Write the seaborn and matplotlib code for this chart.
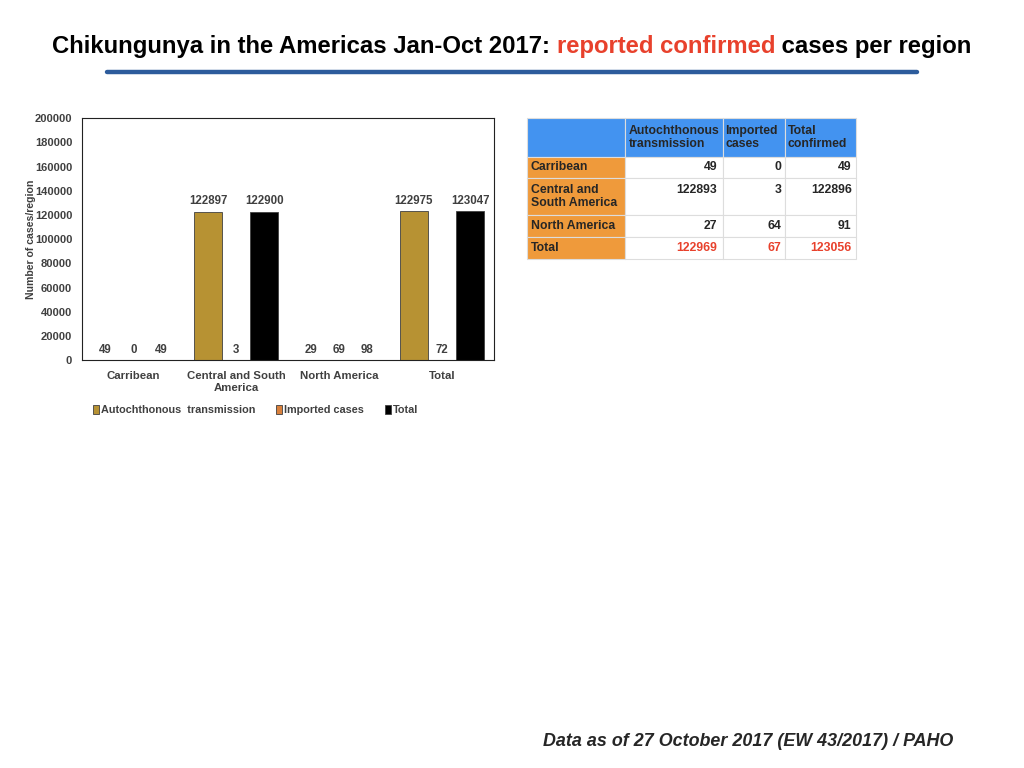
import matplotlib
matplotlib.use("Agg")
import matplotlib.pyplot as plt
import seaborn as sns
import pandas as pd
from matplotlib.lines import Line2D
from matplotlib.patches import Patch

# chart data
regions = ["Carribean", "Central and South\nAmerica", "North America", "Total"]
series = ["Autochthonous  transmission", "Imported cases", "Total"]
autochthonous = [49, 122897, 29, 122975]
imported = [0, 3, 69, 72]
total = [49, 122900, 98, 123047]
bar_colors = ["#B79233", "#D9803C", "#000000"]

# table data
table_rows = ["Carribean", "Central and\nSouth America", "North America", "Total"]
table_cols = ["Autochthonous\ntransmission", "Imported\ncases", "Total\nconfirmed"]
tab_autochthonous = [49, 122893, 27, 122969]
tab_imported = [0, 3, 64, 67]
tab_total = [49, 122896, 91, 123056]

df = pd.DataFrame({
    "region": regions * 3,
    "series": [s for s in series for _ in regions],
    "cases": autochthonous + imported + total,
})

sns.set_theme(style="white")
plt.rcParams["font.family"] = ["Liberation Sans", "DejaVu Sans"]
plt.rcParams["font.weight"] = "bold"

fig = plt.figure(figsize=(10.24, 7.68), dpi=100, facecolor="white")
ax = fig.add_axes([0.080, 0.531, 0.402, 0.315])

sns.barplot(data=df, x="region", y="cases", hue="series", hue_order=series,
            palette=bar_colors, width=0.82, edgecolor="#404040", linewidth=0.6,
            saturation=1, ax=ax, legend=False)

for cont in ax.containers:
    ax.bar_label(cont, padding=3, fontsize=8.3, color="#404040", fontweight="bold")

ax.set_ylim(0, 200000)
ax.set_yticks(range(0, 200001, 20000))
ax.set_xlim(-0.5, 3.5)
ax.set_xlabel("")
ax.set_ylabel("Number of cases/region", fontsize=7.6, color="#404040", fontweight="bold", labelpad=-1)
ax.tick_params(axis="y", labelsize=8, labelcolor="#404040", length=0, pad=7)
ax.tick_params(axis="x", labelsize=8.2, labelcolor="#404040", length=0, pad=8)
for lab in ax.get_xticklabels() + ax.get_yticklabels():
    lab.set_fontweight("bold")
for sp in ax.spines.values():
    sp.set_color("#222222")
    sp.set_linewidth(0.8)

handles = [Patch(facecolor=c, edgecolor="#404040", linewidth=0.6) for c in bar_colors]
fig.legend(handles, series, loc="center", bbox_to_anchor=(0.2495, 0.466), ncol=3,
           frameon=False, fontsize=7.8, handlelength=0.6, handleheight=0.9,
           handletextpad=0.15, columnspacing=1.9, labelcolor="#404040")

# table
tax = fig.add_axes([0.5146, 0.6628, 0.3213, 0.1836])
tax.axis("off")
cell_text = [["", *table_cols]]
for i, r in enumerate(table_rows):
    cell_text.append([r, str(tab_autochthonous[i]), str(tab_imported[i]), str(tab_total[i])])
tbl = tax.table(cellText=cell_text, bbox=[0, 0, 1, 1], cellLoc="right")
tbl.auto_set_font_size(False)
tbl.set_fontsize(8.8)
col_w = [98, 98, 62, 71]
row_h = [39, 21, 37, 22, 22]
for (r, c), cell in tbl.get_celld().items():
    cell.set_width(col_w[c])
    cell.set_height(row_h[r])
    cell.set_edgecolor("#DDDDDD")
    cell.set_linewidth(0.8)
    txt = cell.get_text()
    txt.set_fontweight("bold")
    if r == 0:
        cell.set_facecolor("#4393F0")
        txt.set_horizontalalignment("left")
        cell.PAD = 0.04
    elif c == 0:
        cell.set_facecolor("#EF9A3B")
        txt.set_horizontalalignment("left")
        cell.PAD = 0.04
    else:
        cell.set_facecolor("white")
        cell.PAD = 0.06
    if r == 2 and c > 0:
        txt.set_text(txt.get_text() + "\n ")
    if r == 4 and c > 0:
        txt.set_color("#E8412C")

# title in three colored parts
fig.canvas.draw()
renderer = fig.canvas.get_renderer()
parts = [("Chikungunya in the Americas Jan-Oct 2017: ", "black"),
         ("reported confirmed", "#E8412C"),
         (" cases per region", "black")]
texts = []
widths = []
for s, col in parts:
    t = fig.text(0, 0, s, fontsize=17.2, fontweight="bold", color=col, va="center")
    texts.append(t)
    widths.append(t.get_window_extent(renderer).width)
x0 = 512 - sum(widths) / 2
for t, w in zip(texts, widths):
    t.set_position((x0 / 1024, 1 - 46.5 / 768))
    x0 += w

fig.add_artist(Line2D([107 / 1024, 917 / 1024], [1 - 72 / 768] * 2, color="#2D5C9C", linewidth=3.2))

fig.text(953 / 1024, 1 - 742 / 768, "Data as of 27 October 2017 (EW 43/2017) / PAHO",
         fontsize=12.9, fontweight="bold", fontstyle="italic", ha="right", va="center")

fig.savefig("out.png", dpi=100)
